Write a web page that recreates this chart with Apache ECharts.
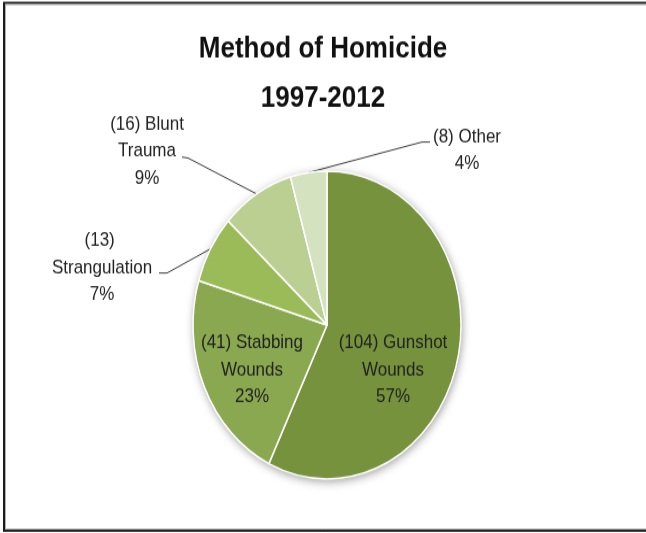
<!DOCTYPE html>
<html>
<head>
<meta charset="utf-8">
<title>Method of Homicide 1997-2012</title>
<script src="https://cdn.jsdelivr.net/npm/echarts@6/dist/echarts.min.js"></script>
<style>
  html, body { margin: 0; padding: 0; background: #ffffff; overflow: hidden; }
  #wrap { width: 646px; height: 533px; overflow: hidden; position: relative; }
  /* the chart is laid out at 646x464 and stretched vertically to fill 533px */
  #chart { width: 646px; height: 464px; transform-origin: 0 0; transform: scaleY(1.14871); }
</style>
</head>
<body>
<div id="wrap"><div id="chart"></div></div>
<script>
// ---- data ----
const categories = ['Gunshot Wounds', 'Stabbing Wounds', 'Strangulation', 'Blunt Trauma', 'Other'];
const counts = [104, 41, 13, 16, 8];
// how each category name is broken after its count in the slice label
const labelNames = ['Gunshot\nWounds', 'Stabbing\nWounds', '\nStrangulation', 'Blunt\nTrauma', 'Other'];
const titleLines = ['Method of Homicide', '1997-2012'];

// ---- styling ----
const SY = 1.14871;                 // vertical stretch applied by CSS
const sliceColors = ['#76923c', '#8aa84f', '#9bbb59', '#bacf91', '#d5e2bf'];
const insideSlices = [0, 1];        // labels drawn on the slice itself
const FONT = '"Liberation Sans", Arial, sans-serif';

// label anchor (centre of the text block) and guide bends, in layout pixels
const labelSpots = [
  { x: 393, y: 370 / SY },
  { x: 252, y: 370 / SY },
  { x: 102, y: 268 / SY, bends: [[167, 273 / SY], [159, 273 / SY]] },
  { x: 147, y: 151 / SY, bends: [[188, 158 / SY], [182, 157 / SY]] },
  { x: 467, y: 150 / SY, bends: [[422, 142 / SY], [430, 142 / SY]] }
];

const total = counts.reduce((a, b) => a + b, 0);
const center = [327, 325 / SY];
const radius = 134;

const pieData = categories.map((name, i) => {
  const inside = insideSlices.indexOf(i) >= 0;
  return {
    name: name,
    value: counts[i],
    itemStyle: { color: sliceColors[i] },
    label: { position: inside ? 'inside' : 'outside' },
    labelLine: { show: !inside }
  };
});

const chart = echarts.init(document.getElementById('chart'), null, { renderer: 'canvas' });

chart.setOption({
  animation: false,
  backgroundColor: '#ffffff',
  title: {
    text: titleLines.join('\n'),
    left: 323,
    top: 21.5,
    textAlign: 'center',
    padding: 0,
    textStyle: {
      fontFamily: FONT,
      fontSize: 26,
      fontWeight: 'bold',
      color: '#111111',
      lineHeight: 43
    }
  },
  graphic: [
    {
      type: 'rect',
      silent: true,
      shape: { x: 4, y: 2.6, width: 700, height: 459.4 },
      style: { fill: 'none', stroke: '#1c1c1c', lineWidth: 2 }
    },
    {
      type: 'rect',
      silent: true,
      shape: { x: 5.5, y: 4, width: 700, height: 456.6 },
      style: { fill: 'none', stroke: '#b0b0b0', lineWidth: 1 }
    }
  ],
  series: [
    {
      // soft drop shadow under the whole pie
      type: 'pie',
      silent: true,
      z: 1,
      center: center,
      radius: radius,
      label: { show: false },
      labelLine: { show: false },
      itemStyle: {
        color: '#ffffff',
        shadowBlur: 8,
        shadowColor: 'rgba(0,0,0,0.4)',
        shadowOffsetY: 2,
        shadowOffsetX: 1
      },
      data: [{ name: 'all', value: total }]
    },
    {
      type: 'pie',
      z: 2,
      center: center,
      radius: radius,
      startAngle: 90,
      clockwise: true,
      avoidLabelOverlap: false,
      itemStyle: { borderColor: '#ffffff', borderWidth: 1.5 },
      label: {
        show: true,
        fontFamily: FONT,
        fontSize: 17,
        lineHeight: 23.5,
        color: '#222222',
        align: 'center',
        formatter: function (p) {
          return '(' + p.value + ') ' + labelNames[p.dataIndex] + '\n' + Math.round(p.percent) + '%';
        }
      },
      labelLine: {
        show: true,
        lineStyle: { color: '#3c3c3c', width: 1 }
      },
      labelLayout: function (params) {
        const spot = labelSpots[params.dataIndex];
        const out = { x: spot.x, y: spot.y, align: 'center', verticalAlign: 'middle' };
        if (spot.bends && params.labelLinePoints) {
          out.labelLinePoints = [params.labelLinePoints[0]].concat(spot.bends);
        }
        return out;
      },
      data: pieData
    }
  ]
});
</script>
</body>
</html>
